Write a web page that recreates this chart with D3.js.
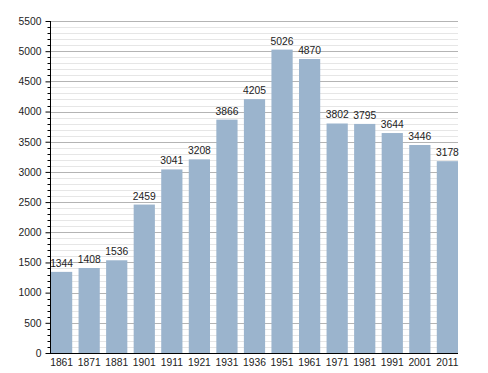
<!DOCTYPE html>
<html lang="en">
<head>
    <meta charset="UTF-8">
    <script src="https://d3js.org/d3.v7.min.js"></script>
    <style>
        body { margin: 0; background: #fff; }
        text { font-family: "Liberation Sans", Arial, sans-serif; font-size: 10.3px; fill: #222; }
    </style>
</head>
<body>
    <div id="chart"></div>
<script>
    // population by census year
    const years = ["1861", "1871", "1881", "1901", "1911", "1921", "1931", "1936",
        "1951", "1961", "1971", "1981", "1991", "2001", "2011"]
    const population = [1344, 1408, 1536, 2459, 3041, 3208, 3866, 4205,
        5026, 4870, 3802, 3795, 3644, 3446, 3178]
    const yTicks = [0, 500, 1000, 1500, 2000, 2500, 3000, 3500, 4000, 4500, 5000, 5500]

    const width = 488, height = 373
    const margin = { top: 21, right: 30, bottom: 20, left: 50 }

    const svg = d3.select("#chart")
        .append("svg")
        .attr("width", width)
        .attr("height", height)

    const x = d3.scaleBand()
        .domain(years)
        .range([margin.left + 1, width - margin.right])
        .paddingInner(0.23)
        .paddingOuter(0)

    const y = d3.scaleLinear()
        .domain([0, 5500])
        .range([height - margin.bottom, margin.top])

    // grid lines, minor every 100 and major every 500
    const minor = d3.range(100, 5501, 100).filter(d => d % 500 !== 0)
    svg.append("g")
        .selectAll("line")
        .data(minor)
        .join("line")
        .attr("x1", margin.left)
        .attr("x2", width - margin.right)
        .attr("y1", d => Math.round(y(d)) + 0.5)
        .attr("y2", d => Math.round(y(d)) + 0.5)
        .attr("stroke", "#e6e6e6")

    svg.append("g")
        .selectAll("line")
        .data(yTicks.filter(d => d > 0))
        .join("line")
        .attr("x1", margin.left)
        .attr("x2", width - margin.right)
        .attr("y1", d => Math.round(y(d)) + 0.5)
        .attr("y2", d => Math.round(y(d)) + 0.5)
        .attr("stroke", "#b4b4b4")

    // bars
    svg.append("g")
        .selectAll("rect")
        .data(population)
        .join("rect")
        .attr("x", (d, i) => x(years[i]))
        .attr("y", d => y(d))
        .attr("width", x.bandwidth())
        .attr("height", d => y(0) - y(d))
        .attr("fill", "#9bb4cd")

    // value labels
    svg.append("g")
        .selectAll("text")
        .data(population)
        .join("text")
        .attr("x", (d, i) => x(years[i]) + x.bandwidth() / 2)
        .attr("y", d => y(d) - 5)
        .attr("text-anchor", "middle")
        .text(d => d)

    // y axis with minor ticks
    const yAxis = svg.append("g")
        .attr("transform", `translate(${margin.left + 0.5},0)`)
    yAxis.call(d3.axisLeft(y).tickValues(yTicks).tickSize(5).tickPadding(4).tickFormat(d3.format("d")))
    yAxis.selectAll(".tick text").style("font-size", "10.3px").style("font-family", null)
    yAxis.append("g")
        .selectAll("line")
        .data(minor)
        .join("line")
        .attr("x1", -3)
        .attr("x2", 0)
        .attr("y1", d => Math.round(y(d)) + 0.5)
        .attr("y2", d => Math.round(y(d)) + 0.5)
        .attr("stroke", "#000")
    yAxis.select(".domain").attr("d", `M0,${y(5500)}V${y(0)}`)

    // x axis
    const xAxis = svg.append("g")
        .attr("transform", `translate(0,${y(0) + 0.5})`)
    xAxis.call(d3.axisBottom(x).tickSize(0).tickPadding(5))
    xAxis.selectAll(".tick text").style("font-size", "10.3px").style("font-family", null)
    xAxis.select(".domain").attr("d", `M${margin.left},0H${width - margin.right}`)
</script>
</body>
</html>
